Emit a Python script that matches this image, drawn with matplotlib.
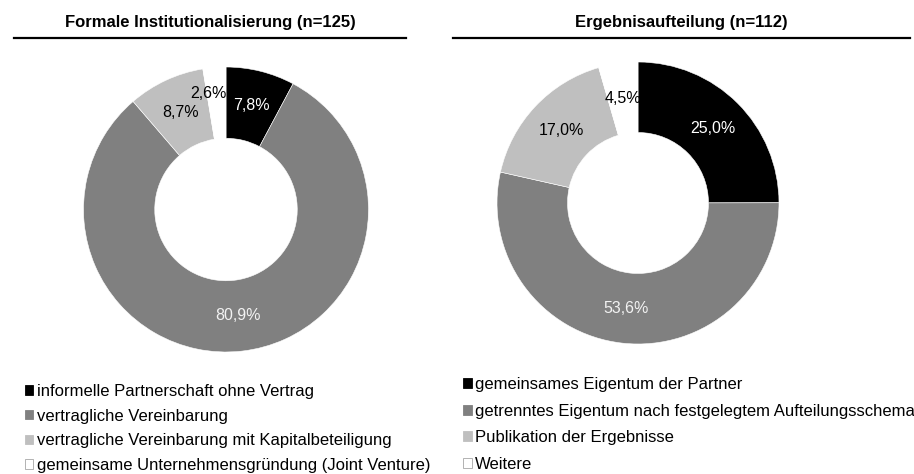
import numpy as np
import matplotlib
matplotlib.use("Agg")
import matplotlib.pyplot as plt
from matplotlib.patches import Patch

plt.rcParams['font.family'] = ['Liberation Sans', 'DejaVu Sans']

# data
left_title = "Formale Institutionalisierung (n=125)"
left_labels = ["informelle Partnerschaft ohne Vertrag",
               "vertragliche Vereinbarung",
               "vertragliche Vereinbarung mit Kapitalbeteiligung",
               "gemeinsame Unternehmensgründung (Joint Venture)"]
left_values = [7.8, 80.9, 8.7, 2.6]

right_title = "Ergebnisaufteilung (n=112)"
right_labels = ["gemeinsames Eigentum der Partner",
                "getrenntes Eigentum nach festgelegtem Aufteilungsschema",
                "Publikation der Ergebnisse",
                "Weitere"]
right_values = [25.0, 53.6, 17.0, 4.5]

colors = ["#000000", "#808080", "#BFBFBF", "#FFFFFF"]
text_colors = ["white", "#F2F2F2", "black", "black"]
handle_edges = ["#000000", "#808080", "#BFBFBF", "#A6A6A6"]

W, H = 914, 474
fig = plt.figure(figsize=(W / 100, H / 100), dpi=100)


def px_axes(cx, cy, r):
    return fig.add_axes([(cx - r) / W, 1 - (cy + r) / H, 2 * r / W, 2 * r / H])


def donut(ax, values, shift=None):
    wedges, _ = ax.pie(values, colors=colors, startangle=90, counterclock=False,
                       radius=1, wedgeprops=dict(width=0.5, edgecolor="white", linewidth=0.4))
    for i, (w, v) in enumerate(zip(wedges, values)):
        ang = np.deg2rad((w.theta1 + w.theta2) / 2)
        x, y = 0.75 * np.cos(ang), 0.75 * np.sin(ang)
        if shift is not None and shift[0] == i:
            x += shift[1]
            y += shift[2]
        ax.text(x, y, f"{v:.1f}".replace(".", ",") + "%", ha="center", va="center",
                fontsize=11.5, color=text_colors[i])
    ax.set_xlim(-1, 1)
    ax.set_ylim(-1, 1)
    ax.set_aspect("equal")
    ax.axis("off")


ax1 = px_axes(226, 209.5, 142.5)
donut(ax1, left_values, shift=(3, -0.065, 0.07))
ax2 = px_axes(638, 203, 141)
donut(ax2, right_values)

# titles and rules
fig.text(210 / W, 1 - 22 / H, left_title, ha="center", va="center",
         fontsize=12, fontweight="bold")
fig.text(681.5 / W, 1 - 22 / H, right_title, ha="center", va="center",
         fontsize=12, fontweight="bold")
fig.add_artist(plt.Line2D([14 / W, 406 / W], [1 - 38 / H] * 2, color="black", lw=1.6))
fig.add_artist(plt.Line2D([453 / W, 910 / W], [1 - 38 / H] * 2, color="black", lw=1.6))


def legend_at(labels, x, y, hsize, pad, spacing):
    handles = [Patch(facecolor=c, edgecolor=e, linewidth=0.6, label=l)
               for c, e, l in zip(colors, handle_edges, labels)]
    fig.legend(handles=handles, loc="upper left", bbox_to_anchor=(x / W, 1 - y / H),
               frameon=False, fontsize=12, handlelength=hsize, handleheight=hsize,
               handletextpad=pad, labelspacing=spacing, borderpad=0, borderaxespad=0)


legend_at(left_labels, 25, 384, 0.48, 0.24, 0.58)
legend_at(right_labels, 463, 377, 0.54, 0.16, 0.70)

fig.savefig("out.png", dpi=100)
